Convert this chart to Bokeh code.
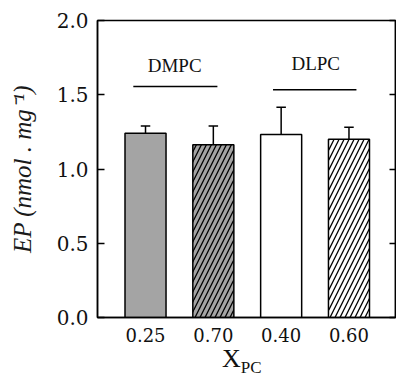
from bokeh.plotting import figure
from bokeh.layouts import column
from bokeh.models import (LinearAxis, FixedTicker, Range1d, Label, NumeralTickFormatter, Div)
from bokeh.embed import file_html
from bokeh.resources import INLINE

# ---- data ----
categories = ["0.25", "0.70", "0.40", "0.60"]
ep_values = [1.240, 1.164, 1.232, 1.200]
ep_errors = [0.050, 0.126, 0.184, 0.081]
groups = ["DMPC", "DLPC"]
group_line_y = [1.555, 1.533]
group_start = [0.82, 2.88]
group_end = [2.06, 4.11]
group_text_x = [1.43, 3.51]
group_text_y = [1.70, 1.71]
y_ticks = [0.0, 0.5, 1.0, 1.5, 2.0]

xs = list(range(1, len(categories) + 1))
fills = ["#a4a4a4", "#a4a4a4", "#ffffff", "#ffffff"]
hatches = [" ", "/", " ", "/"]

X0, X1 = 0.292, 4.686
Y0, Y1 = 0.0, 2.0

p = figure(width=396, height=346, output_backend="svg", toolbar_location=None,
           x_range=Range1d(X0, X1), y_range=Range1d(Y0, Y1),
           min_border_left=97, min_border_right=1, min_border_top=20, min_border_bottom=29)
p.xgrid.visible = False
p.ygrid.visible = False
p.outline_line_color = "black"
p.outline_line_width = 1.5
p.background_fill_color = "white"
p.border_fill_color = "white"

p.vbar(x=xs, top=ep_values, width=0.605, fill_color=fills, line_color="black",
       line_width=1.5, hatch_pattern=hatches, hatch_color="black", hatch_scale=10,
       hatch_weight=1.3)

tops = [v + e for v, e in zip(ep_values, ep_errors)]
p.segment(x0=xs, y0=ep_values, x1=xs, y1=tops, line_color="black", line_width=1.5)
cap = 0.07
p.segment(x0=[x - cap for x in xs], y0=tops, x1=[x + cap for x in xs], y1=tops,
          line_color="black", line_width=1.5)

p.segment(x0=group_start, y0=group_line_y, x1=group_end, y1=group_line_y,
          line_color="black", line_width=1.5)
for g, gx, gy in zip(groups, group_text_x, group_text_y):
    p.add_layout(Label(x=gx, y=gy, text=g, text_font="Liberation Serif", text_font_size="19px",
                       text_align="center", text_baseline="middle", text_color="#111111"))

# axes
xa = p.xaxis[0]
xa.ticker = FixedTicker(ticks=xs)
xa.major_label_overrides = {x: c for x, c in zip(xs, categories)}
xa.major_tick_in = 0
xa.major_tick_out = 0
xa.minor_tick_line_color = None
xa.axis_line_width = 1.5
xa.major_label_text_font = "DejaVu Serif"
xa.major_label_text_font_size = "18px"
xa.major_label_text_color = "#111111"
xa.major_label_standoff = 10

ya = p.yaxis[0]
ya.ticker = FixedTicker(ticks=y_ticks)
ya.formatter = NumeralTickFormatter(format="0.0")
ya.major_tick_in = 7
ya.major_tick_out = 0
ya.minor_tick_line_color = None
ya.axis_line_width = 1.5
ya.major_tick_line_width = 1.5
ya.major_label_text_font = "DejaVu Serif"
ya.major_label_text_font_size = "20px"
ya.major_label_text_color = "#111111"
ya.major_label_standoff = 9
ya.axis_label = "EP (nmol . mg⁻¹)"
ya.axis_label_text_font = "Liberation Serif"
ya.axis_label_text_font_style = "italic"
ya.axis_label_text_font_size = "25px"
ya.axis_label_text_color = "#1a1a1a"
ya.axis_label_standoff = 18

ra = LinearAxis(ticker=FixedTicker(ticks=y_ticks),
                major_label_overrides={t: "" for t in y_ticks},
                major_tick_in=6, major_tick_out=0, minor_tick_line_color=None,
                axis_line_width=1.5, major_tick_line_width=1.5, major_label_standoff=0)
p.add_layout(ra, "right")

xlabel = Div(text="X<sub style='font-size:17px; vertical-align:-6px; line-height:0'>PC</sub>",
             width=396, height=30, margin=0,
             styles={"font-family": "Liberation Serif", "font-size": "26px",
                     "line-height": "26px", "color": "#111111", "padding-left": "222px"})

layout = column(p, xlabel, spacing=0)
open("out.html", "w").write(file_html(layout, INLINE))
